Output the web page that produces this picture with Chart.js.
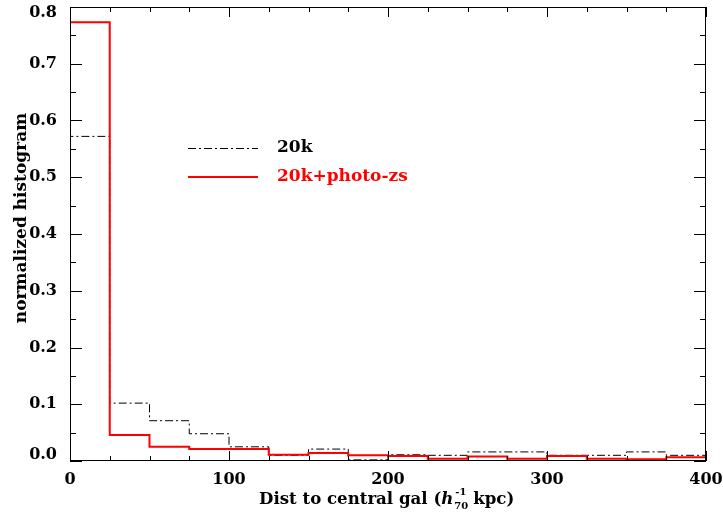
<!DOCTYPE html>
<html>
<head>
<meta charset="utf-8">
<script src="https://cdn.jsdelivr.net/npm/chart.js@4.4.0/dist/chart.umd.min.js"></script>
<style>
  html, body { margin: 0; padding: 0; background: #fff; }
  #wrap { width: 723px; height: 516px; }
</style>
</head>
<body>
<div id="wrap"><canvas id="histChart" width="723" height="516"></canvas></div>
<script>
// bin edges (h70^-1 kpc) and histogram heights
const binEdges = [0, 25, 50, 75, 100, 125, 150, 175, 200, 225, 250, 275, 300, 325, 350, 375, 400];
const hist20k = [0.572, 0.102, 0.071, 0.048, 0.025, 0.010, 0.021, 0.002, 0.011, 0.010, 0.016, 0.016, 0.010, 0.010, 0.016, 0.010];
const histPhotoZ = [0.773, 0.046, 0.025, 0.021, 0.021, 0.011, 0.014, 0.010, 0.009, 0.004, 0.008, 0.004, 0.009, 0.004, 0.003, 0.0065];
const yTicks = [0, 0.1, 0.2, 0.3, 0.4, 0.5, 0.6, 0.7, 0.8];
const xTicks = [0, 100, 200, 300, 400];

const serif = "'DejaVu Serif', 'Liberation Serif', serif";

// bins -> points at right edges (vertical step happens at the left edge)
function stepPoints(values) {
    const pts = [{ x: binEdges[0], y: 0 }];
    for (let i = 0; i < values.length; i++) {
        pts.push({ x: binEdges[i + 1], y: values[i] });
    }
    return pts;
}

// IDL style frame: box plus inward ticks on all four sides, legend, titles
const framePlugin = {
    id: "frame",
    afterDatasetsDraw(chart) {
        const ctx = chart.ctx;
        const a = chart.chartArea;
        const xs = chart.scales.x;
        const ys = chart.scales.y;
        ctx.save();
        ctx.strokeStyle = "#000";
        ctx.lineWidth = 1;
        ctx.strokeRect(a.left + 0.5, a.top + 0.5, a.right - a.left - 1, a.bottom - a.top - 1);
        ctx.beginPath();
        for (let v = 0; v <= 400; v += 25) {
            const px = Math.round(xs.getPixelForValue(v)) + 0.5;
            const len = v % 100 === 0 ? 10 : 5;
            ctx.moveTo(px, a.bottom); ctx.lineTo(px, a.bottom - len);
            ctx.moveTo(px, a.top); ctx.lineTo(px, a.top + len);
        }
        for (let i = 0; i <= 16; i++) {
            const v = i * 0.05;
            const py = Math.round(ys.getPixelForValue(v)) + 0.5;
            const len = i % 2 === 0 ? 12 : 6;
            ctx.moveTo(a.left, py); ctx.lineTo(a.left + len, py);
            ctx.moveTo(a.right, py); ctx.lineTo(a.right - len, py);
        }
        ctx.stroke();

        // legend
        const lx = 188, ly1 = 148, ly2 = 177;
        ctx.setLineDash([8, 3, 2, 3]);
        ctx.beginPath(); ctx.moveTo(lx, ly1 + 0.5); ctx.lineTo(lx + 70, ly1 + 0.5); ctx.stroke();
        ctx.setLineDash([]);
        ctx.strokeStyle = "#ff0000"; ctx.lineWidth = 2;
        ctx.beginPath(); ctx.moveTo(lx, ly2); ctx.lineTo(lx + 70, ly2); ctx.stroke();
        ctx.font = "bold 17px " + serif;
        ctx.textBaseline = "middle";
        ctx.fillStyle = "#000"; ctx.fillText("20k", lx + 89, ly1);
        ctx.fillStyle = "#ff0000"; ctx.fillText("20k+photo-zs", lx + 89, ly2);

        // y axis title
        ctx.fillStyle = "#000";
        ctx.save();
        ctx.translate(22, 218);
        ctx.rotate(-Math.PI / 2);
        ctx.textAlign = "center";
        ctx.font = "bold 17px " + serif;
        ctx.fillText("normalized histogram", 0, 0);
        ctx.restore();

        // x axis title with h_70^-1
        ctx.textBaseline = "alphabetic";
        let tx = 259;
        const ty = 504;
        ctx.font = "bold 16.6px " + serif;
        const part1 = "Dist to central gal (";
        ctx.fillText(part1, tx, ty);
        tx += ctx.measureText(part1).width;
        ctx.font = "italic bold 16.6px " + serif;
        ctx.fillText("h", tx, ty);
        tx += ctx.measureText("h").width + 1;
        ctx.font = "bold 10px " + serif;
        ctx.fillText("-1", tx + 1, ty - 9);
        ctx.fillText("70", tx, ty + 5);
        tx += ctx.measureText("70").width + 5;
        ctx.font = "bold 16.6px " + serif;
        ctx.fillText("kpc)", tx, ty);
        ctx.restore();
    }
};

new Chart(document.getElementById("histChart").getContext("2d"), {
    type: "line",
    data: {
        datasets: [
            {
                label: "20k+photo-zs",
                data: stepPoints(histPhotoZ),
                borderColor: "#ff0000",
                borderWidth: 2,
                stepped: "after",
                pointRadius: 0,
                fill: false,
            },
            {
                label: "20k",
                data: stepPoints(hist20k),
                borderColor: "#000000",
                borderWidth: 1,
                borderDash: [8, 3, 2, 3],
                stepped: "after",
                pointRadius: 0,
                fill: false,
            },
        ],
    },
    options: {
        responsive: false,
        animation: false,
        layout: { autoPadding: false, padding: { top: 7, right: 17, left: 1, bottom: 0 } },
        plugins: { legend: { display: false }, tooltip: { enabled: false } },
        scales: {
            x: {
                type: "linear",
                min: 0,
                max: 400,
                grid: { display: false },
                border: { display: false },
                afterBuildTicks: (s) => { s.ticks = xTicks.map((v) => ({ value: v })); },
                afterFit: (s) => { s.height = 55; s.paddingLeft = 0; s.paddingRight = 0; },
                ticks: {
                    color: "#000",
                    padding: 1,
                    maxRotation: 0,
                    font: { family: serif, size: 16, weight: "bold" },
                },
            },
            y: {
                min: 0,
                max: 0.8,
                grid: { display: false },
                border: { display: false },
                afterBuildTicks: (s) => { s.ticks = yTicks.map((v) => ({ value: v })); },
                afterFit: (s) => { s.width = 69; s.paddingTop = 0; s.paddingBottom = 0; },
                ticks: {
                    color: "#000",
                    padding: 5,
                    // end labels are nudged inside the frame, as in the original plot
                    callback: (v, i, arr) => {
                        const t = v.toFixed(1);
                        if (i === 0) return [t, ""];
                        if (i === arr.length - 1) return ["", t];
                        return t;
                    },
                    font: { family: serif, size: 16, weight: "bold", lineHeight: 0.75 },
                },
            },
        },
    },
    plugins: [framePlugin],
});
</script>
</body>
</html>
